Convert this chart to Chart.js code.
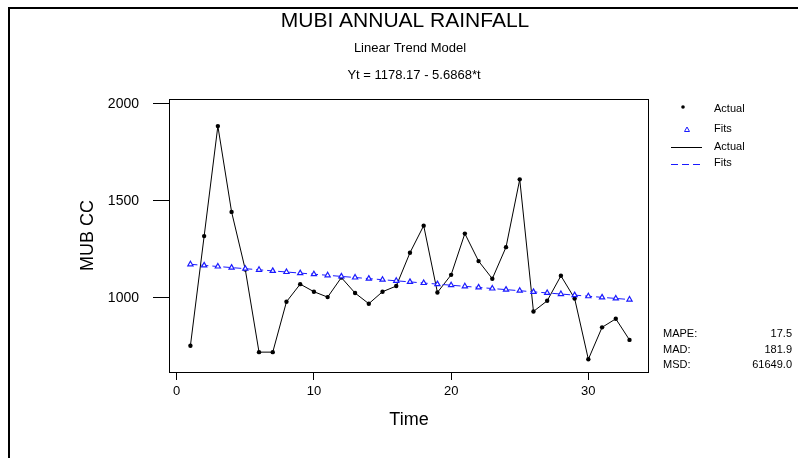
<!DOCTYPE html>
<html>
<head>
<meta charset="utf-8">
<title>MUBI Annual Rainfall</title>
<script src="https://cdn.jsdelivr.net/npm/chart.js@4"></script>
<style>
    body { margin: 0; background: #fff; }
    #trendChart { display: block; }
</style>
</head>
<body>
<canvas id="trendChart" width="798" height="458"></canvas>
<script>
// ---------------------------------------------------------------------------
// Data
// ---------------------------------------------------------------------------
const timeIndex = [1, 2, 3, 4, 5, 6, 7, 8, 9, 10, 11, 12, 13, 14, 15, 16, 17,
    18, 19, 20, 21, 22, 23, 24, 25, 26, 27, 28, 29, 30, 31, 32, 33];

const actualRainfall = [752, 1318, 1886, 1443, 1145, 719, 719, 979, 1070, 1031,
    1003, 1104, 1024, 969, 1031, 1060, 1232, 1372, 1027, 1118, 1331, 1189, 1098,
    1261, 1611, 929, 984, 1113, 996, 682, 847, 891, 782];

// Yt = 1178.17 - 5.6868*t
const fittedRainfall = [1172.48, 1166.80, 1161.11, 1155.42, 1149.74, 1144.05,
    1138.36, 1132.68, 1126.99, 1121.30, 1115.62, 1109.93, 1104.24, 1098.55,
    1092.87, 1087.18, 1081.49, 1075.81, 1070.12, 1064.43, 1058.75, 1053.06,
    1047.37, 1041.69, 1036.00, 1030.31, 1024.63, 1018.94, 1013.25, 1007.57,
    1001.88, 996.19, 990.51];

const xTickValues = [0, 10, 20, 30];
const yTickValues = [1000, 1500, 2000];

const accuracyLabels = ['MAPE:', 'MAD:', 'MSD:'];
const accuracyValues = ['17.5', '181.9', '61649.0'];

const FONT = "'Liberation Sans', Arial, sans-serif";
const FIT_BLUE = '#1a1aff';

// ---------------------------------------------------------------------------
// Decorations: page border, frame, titles, legend, accuracy block
// ---------------------------------------------------------------------------
const minitabDecor = {
    id: 'minitabDecor',
    beforeDraw(chart) {
        const ctx = chart.ctx;
        ctx.save();
        ctx.fillStyle = '#fff';
        ctx.fillRect(0, 0, chart.width, chart.height);
        ctx.fillStyle = '#000';
        ctx.fillRect(8, 7, chart.width - 8, 2);
        ctx.fillRect(8, 7, 2, chart.height - 7);
        ctx.restore();
    },
    afterDraw(chart) {
        const ctx = chart.ctx;
        const area = chart.chartArea;
        ctx.save();

        // plot frame
        ctx.strokeStyle = '#000';
        ctx.lineWidth = 1;
        ctx.strokeRect(area.left + 0.5, area.top + 0.5,
            area.right - area.left - 1, area.bottom - area.top);

        // titles
        ctx.fillStyle = '#000';
        ctx.textAlign = 'center';
        ctx.textBaseline = 'middle';
        ctx.font = '21px ' + FONT;
        ctx.fillText('MUBI ANNUAL RAINFALL', 405, 21);
        ctx.font = '13px ' + FONT;
        ctx.fillText('Linear Trend Model', 410, 48);
        ctx.fillText('Yt = 1178.17 - 5.6868*t', 414, 75);

        // legend
        ctx.font = '11px ' + FONT;
        ctx.textAlign = 'left';
        ctx.beginPath();
        ctx.arc(683, 107, 1.8, 0, Math.PI * 2);
        ctx.fill();
        ctx.fillText('Actual', 714, 109);

        ctx.strokeStyle = FIT_BLUE;
        ctx.beginPath();
        ctx.moveTo(687, 127);
        ctx.lineTo(689.5, 131.5);
        ctx.lineTo(684.5, 131.5);
        ctx.closePath();
        ctx.stroke();
        ctx.fillText('Fits', 714, 129);

        ctx.strokeStyle = '#000';
        ctx.beginPath();
        ctx.moveTo(671, 147.5);
        ctx.lineTo(702, 147.5);
        ctx.stroke();
        ctx.fillText('Actual', 714, 147);

        ctx.strokeStyle = FIT_BLUE;
        ctx.setLineDash([7, 4]);
        ctx.beginPath();
        ctx.moveTo(671, 164.5);
        ctx.lineTo(702, 164.5);
        ctx.stroke();
        ctx.setLineDash([]);
        ctx.fillText('Fits', 714, 163);

        // accuracy measures
        accuracyLabels.forEach((label, i) => {
            const y = 334 + i * 15.5;
            ctx.textAlign = 'left';
            ctx.fillText(label, 663, y);
            ctx.textAlign = 'right';
            ctx.fillText(accuracyValues[i], 792, y);
        });

        ctx.restore();
    }
};

// ---------------------------------------------------------------------------
// Chart
// ---------------------------------------------------------------------------
const toPoints = (ys) => timeIndex.map((t, i) => ({ x: t, y: ys[i] }));

new Chart(document.getElementById('trendChart'), {
    type: 'line',
    data: {
        datasets: [
            {
                label: 'Fits',
                data: toPoints(fittedRainfall),
                borderColor: FIT_BLUE,
                borderWidth: 1,
                borderDash: [7, 4],
                pointStyle: 'triangle',
                pointRadius: 3,
                pointBorderColor: FIT_BLUE,
                pointBackgroundColor: '#fff',
                pointBorderWidth: 1.2,
                tension: 0
            },
            {
                label: 'Actual',
                data: toPoints(actualRainfall),
                borderColor: '#000',
                borderWidth: 1,
                pointStyle: 'circle',
                pointRadius: 2.2,
                pointBorderWidth: 0,
                pointBackgroundColor: '#000',
                tension: 0
            }
        ]
    },
    options: {
        responsive: false,
        animation: false,
        devicePixelRatio: 1,
        layout: { padding: { top: 99, right: 149, left: 0, bottom: 0 } },
        plugins: {
            legend: { display: false },
            tooltip: { enabled: false }
        },
        scales: {
            x: {
                type: 'linear',
                min: -0.561,
                max: 34.42,
                afterBuildTicks: (scale) => {
                    scale.ticks = xTickValues.map(v => ({ value: v }));
                },
                afterFit: (scale) => { scale.height = 86; },
                grid: {
                    drawOnChartArea: false,
                    tickLength: 8,
                    color: '#000'
                },
                border: { display: false },
                ticks: {
                    color: '#000',
                    padding: 4,
                    maxRotation: 0,
                    callback: (v) => String(v),
                    font: { family: FONT, size: 13 }
                },
                title: {
                    display: true,
                    text: 'Time',
                    color: '#000',
                    font: { family: FONT, size: 18 },
                    padding: { top: 0, bottom: 27 }
                }
            },
            y: {
                type: 'linear',
                min: 616.4,
                max: 2025.8,
                afterBuildTicks: (scale) => {
                    scale.ticks = yTickValues.map(v => ({ value: v }));
                },
                afterFit: (scale) => { scale.width = 169; },
                grid: {
                    drawOnChartArea: false,
                    tickLength: 16,
                    color: '#000'
                },
                border: { display: false },
                ticks: {
                    color: '#000',
                    padding: 14,
                    callback: (v) => String(v),
                    font: { family: FONT, size: 14 }
                },
                title: {
                    display: true,
                    text: 'MUB CC',
                    color: '#000',
                    font: { family: FONT, size: 18 },
                    padding: { top: 77, bottom: 0 }
                }
            }
        }
    },
    plugins: [minitabDecor]
});
</script>
</body>
</html>
